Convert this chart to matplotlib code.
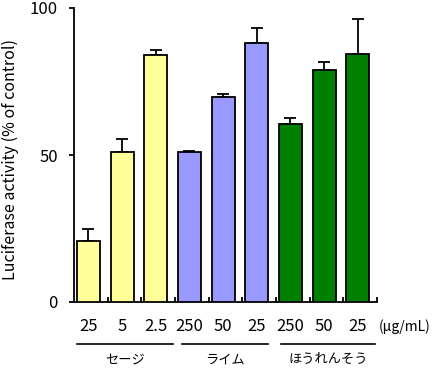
#!/usr/bin/env python3
import numpy as np
import matplotlib
matplotlib.use('Agg')
import matplotlib.pyplot as plt
import matplotlib.transforms as mtransforms

plt.rcParams['font.family'] = ['Noto Sans CJK JP', 'DejaVu Sans']

# data
dose_labels = ['25', '5', '2.5', '250', '50', '25', '250', '50', '25']
activity    = [20.6, 51.0, 83.9, 50.9, 69.6, 88.0, 60.4, 78.8, 84.2]
sd          = [4.1, 4.4, 1.7, 0.6, 1.0, 5.1, 2.1, 2.7, 11.9]
groups      = ['セージ', 'ライム', 'ほうれんそう']
group_span  = [(0.09, 2.93), (3.2, 5.75), (6.15, 8.94)]
bar_colors  = ['#FFFF99'] * 3 + ['#9999FF'] * 3 + ['#008000'] * 3

fig = plt.figure(figsize=(4.33, 3.69), dpi=100)
ax = fig.add_axes([74/433, 67/369, 303/433, 294/369])

x = np.arange(len(activity)) + 0.43
ax.bar(x, activity, width=0.68, color=bar_colors, edgecolor='k', linewidth=1.3, zorder=3)
ax.errorbar(x, activity, yerr=[np.zeros(len(sd)), sd], fmt='none',
            ecolor='k', elinewidth=1.3, capsize=4, capthick=1.3, zorder=2)

ax.set_xlim(0, 9)
ax.set_ylim(0, 100)
ax.set_yticks([0, 50, 100])
ax.tick_params(axis='y', direction='out', length=3.6, width=1.3, labelsize=12, pad=8)
ax.set_xticks(np.arange(1, 10))
ax.set_xticklabels([])
ax.tick_params(axis='x', direction='in', length=3.6, width=1.3)
for side in ['top', 'right']:
    ax.spines[side].set_visible(False)
for side in ['left', 'bottom']:
    ax.spines[side].set_linewidth(1.3)

ax.set_ylabel('Luciferase activity (% of control)', fontsize=11.5)
ax.yaxis.set_label_coords(-0.182, 0.486)

trans = mtransforms.blended_transform_factory(ax.transData, ax.transAxes)
for xi, lab in zip(x, dose_labels):
    ax.text(xi, -0.085, lab, transform=trans, ha='center', va='center', fontsize=12)
ax.text(9.05, -0.085, '(μg/mL)', transform=trans, ha='left', va='center', fontsize=10)

for (x0, x1), g in zip(group_span, groups):
    ax.plot([x0, x1], [-0.143, -0.143], transform=trans, color='k', lw=1.2, clip_on=False)
    ax.text((x0 + x1) / 2, -0.197, g, transform=trans, ha='center', va='center', fontsize=9.5)

fig.savefig('out.png', dpi=100, facecolor='w')
plt.close()
